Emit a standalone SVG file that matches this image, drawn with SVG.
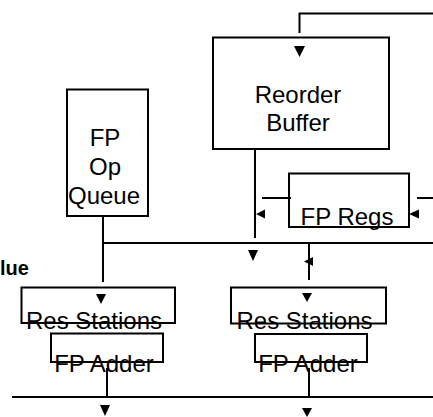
<svg xmlns="http://www.w3.org/2000/svg" width="433" height="417" viewBox="0 0 433 417">
  <style>
    .box { fill: none; stroke: #000; stroke-width: 2; }
    .wire { fill: none; stroke: #000; stroke-width: 2; }
    .lbl { font-family: "Liberation Sans", Arial, sans-serif; font-size: 24px; fill: #000; text-anchor: middle; }
    .side { font-family: "Liberation Sans", Arial, sans-serif; font-size: 20px; font-weight: bold; fill: #000; }
    .head { fill: #000; }
  </style>
  <rect width="433" height="417" fill="#fff"/>

  <!-- connectors -->
  <g id="connectors">
    <!-- result bus back into the reorder buffer -->
    <polyline class="wire" points="433,13.5 299.5,13.5 299.5,33"/>
    <polygon class="head" points="294,46 305,46 299.5,57"/>
    <!-- reorder buffer down towards the operand bus -->
    <line class="wire" x1="255" y1="149" x2="255" y2="238"/>
    <line class="wire" x1="262" y1="198" x2="291" y2="198"/>
    <polygon class="head" points="256,214 265,209.5 265,218.5"/>
    <!-- FP regs feed from the right -->
    <line class="wire" x1="417" y1="198" x2="433" y2="198"/>
    <polygon class="head" points="409,214 419,209.5 419,218.5"/>
    <!-- operand bus -->
    <line class="wire" x1="103" y1="243" x2="433" y2="243"/>
    <polygon class="head" points="248,250 258,250 253,261"/>
    <line class="wire" x1="103" y1="216" x2="103" y2="282"/>
    <line class="wire" x1="309" y1="243" x2="309" y2="280"/>
    <polygon class="head" points="304,261.5 313,257 313,266"/>
    <!-- arrows into the reservation stations -->
    <polygon class="head" points="96,294 106,294 101,304"/>
    <polygon class="head" points="302,293 312,293 307,302"/>
    <!-- adder outputs onto the common data bus -->
    <line class="wire" x1="107" y1="368" x2="107" y2="396"/>
    <line class="wire" x1="309" y1="368" x2="309" y2="396"/>
    <line class="wire" x1="12" y1="397" x2="433" y2="397"/>
    <polygon class="head" points="100,405 110,405 105,416"/>
    <polygon class="head" points="302,408 312,408 307,417"/>
  </g>

  <g id="reorder-buffer">
    <rect class="box" x="213" y="37.5" width="176" height="111.5"/>
    <text class="lbl" x="298" y="103">Reorder</text>
    <text class="lbl" x="298" y="131">Buffer</text>
  </g>

  <g id="fp-op-queue">
    <rect class="box" x="67" y="89.5" width="81" height="126.5"/>
    <text class="lbl" x="105" y="146">FP</text>
    <text class="lbl" x="105" y="175">Op</text>
    <text class="lbl" x="104" y="204">Queue</text>
  </g>

  <g id="fp-regs">
    <rect class="box" x="289" y="173.5" width="120" height="53.5"/>
    <text class="lbl" x="347" y="225">FP Regs</text>
  </g>

  <g id="res-stations-1">
    <rect class="box" x="21.5" y="287.5" width="153.5" height="35.5"/>
    <text class="lbl" x="94" y="329">Res Stations</text>
  </g>

  <g id="fp-adder-1">
    <rect class="box" x="51" y="333.5" width="112" height="28.5"/>
    <text class="lbl" x="104" y="372">FP Adder</text>
  </g>

  <g id="res-stations-2">
    <rect class="box" x="231" y="287.5" width="155" height="36"/>
    <text class="lbl" x="304.5" y="329">Res Stations</text>
  </g>

  <g id="fp-adder-2">
    <rect class="box" x="255" y="334" width="112" height="28"/>
    <text class="lbl" x="308" y="372">FP Adder</text>
  </g>

  <text class="side" x="0" y="275">lue</text>
</svg>
